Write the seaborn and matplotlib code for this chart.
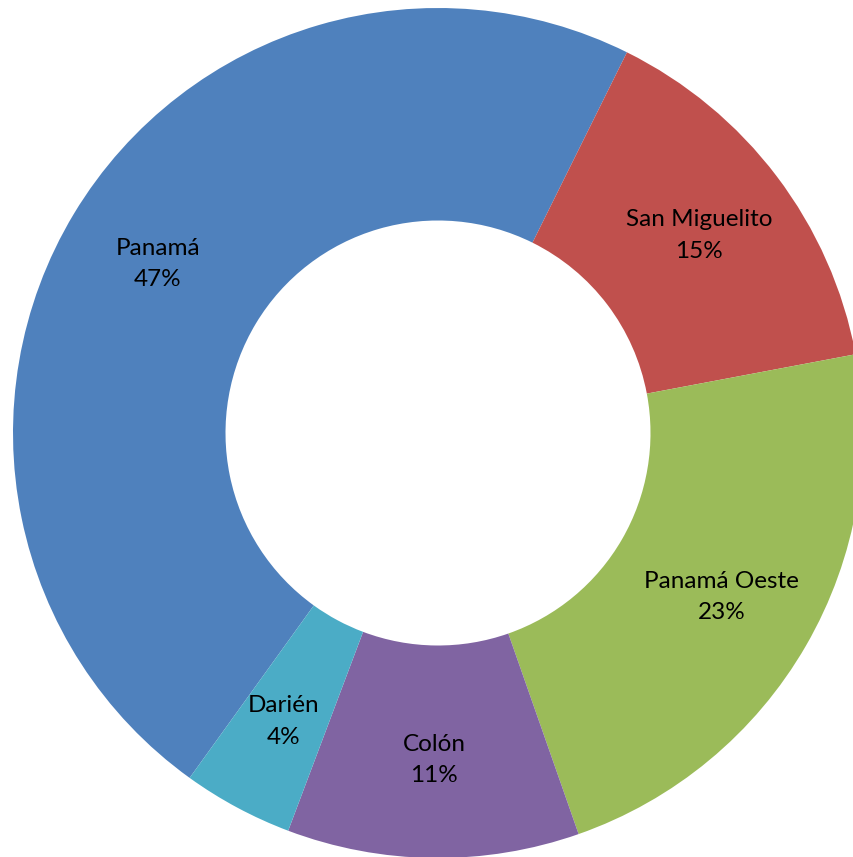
import seaborn as sns
from matplotlib import pyplot as plt

# provincias, en el orden del anillo (sentido horario)
provincias = ["Panamá", "San Miguelito", "Panamá Oeste", "Colón", "Darién"]
porcentajes = [47.4, 14.7, 22.6, 11.1, 4.2]
etiquetas_pct = ["47%", "15%", "23%", "11%", "4%"]
colores = ["#4F81BD", "#C0504D", "#9BBB59", "#8064A2", "#4BACC6"]

sns.set_style("white")
plt.rcParams["font.family"] = ["Lato", "DejaVu Sans"]

fig = plt.figure(figsize=(8.54, 8.57), dpi=100)
ax = fig.add_axes([0, 0, 1, 1])

# Panamá termina a ~26.4 grados desde arriba, en sentido horario
inicio = 90 - (26.4 - porcentajes[0] * 3.6)

textos = iter([f"{p}\n{e}" for p, e in zip(provincias, etiquetas_pct)])
wedges, _, autotexts = ax.pie(
    porcentajes,
    colors=sns.color_palette(colores),
    startangle=inicio,
    counterclock=False,
    radius=1.0,
    wedgeprops=dict(width=0.5, linewidth=0),
    autopct=lambda pct: next(textos),
    pctdistance=0.77,
    textprops=dict(fontsize=17.5, color="black", linespacing=1.6),
)

# centro del anillo en píxeles (438, 433), radio exterior 425
r_px = 425
cx, cy = 438, 433
ax.set_xlim(-cx / r_px, (854 - cx) / r_px)
ax.set_ylim(-(857 - cy) / r_px, cy / r_px)
ax.set_aspect("equal")
ax.axis("off")

plt.savefig("out.png", dpi=100)
plt.close()
